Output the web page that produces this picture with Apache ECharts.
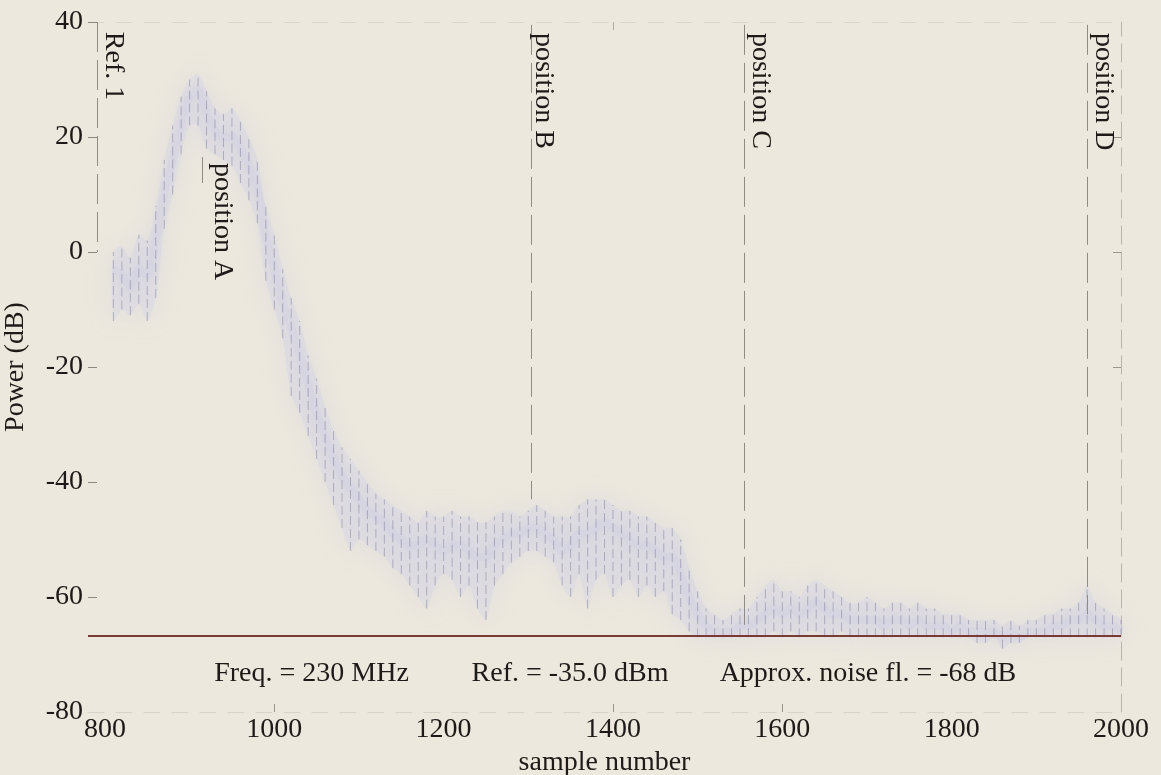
<!DOCTYPE html>
<html>
<head>
<meta charset="utf-8">
<script src="https://cdn.jsdelivr.net/npm/echarts@6/dist/echarts.min.js"></script>
<style>
html,body{margin:0;padding:0;background:#ece8de;}
#chart{width:1161px;height:775px;}
</style>
</head>
<body>
<div id="chart"></div>
<script>
// ---- data ----
const sampleX = [810,820,830,840,850,860,870,880,890,900,910,920,930,940,950,960,970,980,990,1000,
1010,1020,1030,1040,1050,1060,1070,1080,1090,1100,1110,1120,1130,1140,1150,1160,1170,1180,1190,1200,
1210,1220,1230,1240,1250,1260,1270,1280,1290,1300,1310,1320,1330,1340,1350,1360,1370,1380,1390,1400,
1410,1420,1430,1440,1450,1460,1470,1480,1490,1500,1510,1520,1530,1540,1550,1560,1570,1580,1590,1600,
1610,1620,1630,1640,1650,1660,1670,1680,1690,1700,1710,1720,1730,1740,1750,1760,1770,1780,1790,1800,
1810,1820,1830,1840,1850,1860,1870,1880,1890,1900,1910,1920,1930,1940,1950,1960,1970,1980,1990,2000];

const powerMid = [-3,-4,-6,-3,-4,2,10,16,22,27,28,24,21,20,20,18,15,11,3,-3,
-9,-13,-18,-23,-28,-32,-36,-39,-41,-43,-45,-46,-47,-49,-50,-51,-51,-50,-51,-52,
-51,-51,-52,-53,-53,-51,-50,-49,-49,-48,-48,-49,-50,-52,-51,-49,-49,-48,-47,-48,
-49,-50,-51,-51,-52,-53,-53,-56,-60,-63,-65,-66,-66,-66,-65,-65,-64,-63,-62,-63,
-62,-63,-62,-61,-62,-63,-63,-64,-64,-64,-64,-65,-64,-64,-65,-64,-65,-65,-65,-66,
-65,-66,-66,-66,-66,-67,-66,-67,-66,-66,-66,-65,-65,-64,-64,-63,-64,-65,-65,-66];

const powerLow = [-12,-10,-11,-9,-12,-8,4,10,17,22,22,18,17,16,15,12,9,5,-5,-10,
-15,-25,-28,-32,-36,-40,-44,-48,-52,-50,-51,-52,-53,-55,-56,-58,-60,-62,-58,-56,
-57,-60,-58,-62,-64,-58,-56,-54,-53,-52,-52,-53,-54,-58,-60,-56,-62,-57,-56,-60,
-58,-57,-60,-58,-60,-59,-63,-64,-66,-67,-67,-67,-67,-67,-67,-67,-67,-67,-66,-67,
-66,-67,-66,-66,-67,-67,-66,-67,-67,-67,-67,-67,-67,-67,-67,-67,-67,-67,-67,-67,
-67,-67,-68,-68,-67,-69,-68,-68,-67,-67,-67,-67,-67,-67,-67,-67,-67,-67,-67,-67];

const powerHigh = [0,1,-1,3,2,8,16,22,27,30,31,28,25,24,25,23,20,16,8,3,
-3,-8,-12,-18,-22,-27,-31,-34,-36,-38,-40,-42,-43,-44,-45,-46,-47,-45,-46,-46,
-45,-46,-46,-47,-47,-46,-45,-45,-46,-45,-44,-45,-46,-46,-46,-44,-43,-43,-43,-44,
-45,-45,-46,-46,-47,-48,-48,-50,-55,-59,-62,-63,-64,-63,-62,-62,-60,-58,-57,-59,
-59,-60,-58,-57,-58,-59,-60,-61,-61,-60,-61,-62,-61,-61,-62,-61,-62,-62,-63,-63,
-63,-64,-64,-64,-64,-65,-64,-65,-64,-64,-63,-63,-62,-62,-61,-58,-61,-62,-63,-64];

const noiseFloor = -66.8;

const markerNames  = ['Ref. 1', 'position A', 'position B', 'position C', 'position D'];
const markerX      = [790.6, 914.6, 1303, 1555.6, 1960.6];
const markerTop    = [40, 16.5, 39.5, 39.5, 39.5];
const markerBottom = [0, 12, -43, -66, -63];
const markerLabelX = [810.2, 938.2, 1318.3, 1574.5, 1979.4];
const markerLabelY = [38.3, 15.5, 38.1, 38.1, 38.1];

const noteTexts = ['Freq. = 230 MHz', 'Ref. = -35.0 dBm', 'Approx. noise fl. = -68 dB'];
const noteX     = [929, 1233, 1526];
const noteY     = [-73.3, -73.3, -73.3];

const xTickLabels = [800, 1000, 1200, 1400, 1600, 1800, 2000];
const yTickLabels = [-80, -60, -40, -20, 0, 20, 40];

// ---- chart ----
const FONT = '"Liberation Serif", "Times New Roman", serif';
const TXT = '#1d1a17';
const chart = echarts.init(document.getElementById('chart'), null, {renderer: 'canvas'});

const segs = sampleX.map((x, i) => [x, powerLow[i], powerHigh[i]]);
const midLine = sampleX.map((x, i) => [x, powerMid[i]]);

const markerLines = markerX.map((x, i) => [
  {coord: [x, markerTop[i]], lineStyle: {color: '#8f8c86', width: 1, type: [30, 8]}},
  {coord: [x, markerBottom[i]]}
]);

const labelStyle = {fontFamily: FONT, fontSize: 28, color: TXT, textBorderWidth: 0, textShadowBlur: 0, opacity: 1};

const option = {
  backgroundColor: '#ece8de',
  animation: false,
  grid: {left: 88, right: 40, top: 22, bottom: 63, containLabel: false, outerBoundsMode: 'none'},
  xAxis: [{
    type: 'value', min: 780, max: 2000, position: 'bottom',
    name: 'sample number', nameLocation: 'middle', nameGap: 25,
    nameTextStyle: {fontFamily: FONT, fontSize: 28, color: TXT},
    axisLine: {show: true, onZero: false, lineStyle: {color: '#d8d3c9', width: 1, type: [16, 12]}},
    axisTick: {show: true, inside: true, length: 8, customValues: [1000, 1400, 1600], lineStyle: {color: '#9a968f'}},
    axisLabel: {customValues: xTickLabels, formatter: v => String(v), fontFamily: FONT, fontSize: 28, color: TXT, margin: 4},
    splitLine: {show: false}
  }, {
    type: 'value', min: 780, max: 2000, position: 'top',
    axisLine: {show: true, onZero: false, lineStyle: {color: '#dcd7cd', width: 1, type: [16, 12]}},
    axisTick: {show: true, inside: true, length: 8, customValues: [1400], lineStyle: {color: '#b0aca4'}},
    axisLabel: {show: false},
    splitLine: {show: false}
  }],
  yAxis: [{
    type: 'value', min: -80, max: 40, interval: 20, position: 'left',
    name: 'Power (dB)', nameLocation: 'middle', nameGap: 58,
    nameTextStyle: {fontFamily: FONT, fontSize: 28, color: TXT},
    axisLine: {show: false, onZero: false},
    axisTick: {show: true, inside: true, length: 9, customValues: [40, 20, 0, -20, -40, -60], lineStyle: {color: '#8c8882'}},
    axisLabel: {customValues: yTickLabels, formatter: v => String(v), fontFamily: FONT, fontSize: 28, color: TXT, margin: 5},
    splitLine: {show: false}
  }, {
    type: 'value', min: -80, max: 40, interval: 20, position: 'right',
    axisLine: {show: true, onZero: false, lineStyle: {color: '#b9b5ad', width: 1, type: [18, 8]}},
    axisTick: {show: true, inside: true, length: 8, customValues: [20, 0, -20], lineStyle: {color: '#9a968f'}},
    axisLabel: {show: false},
    splitLine: {show: false}
  }],
  series: [
    {
      name: 'band', type: 'custom', data: [[sampleX[0], powerMid[0]]], silent: true, z: 1,
      renderItem: function (params, api) {
        const top = sampleX.map((x, i) => api.coord([x, powerHigh[i]]));
        const bot = sampleX.map((x, i) => api.coord([x, powerLow[i]])).reverse();
        return {
          type: 'polygon',
          shape: {points: top.concat(bot), smooth: 0.3},
          style: {fill: 'rgba(212,212,228,0.4)', shadowBlur: 22, shadowColor: 'rgba(205,205,225,0.95)'}
        };
      }
    },
    {
      name: 'mid', type: 'line', data: midLine, symbol: 'none', smooth: 0.3,
      lineStyle: {width: 8, color: 'rgba(205,205,226,0.35)', shadowBlur: 8, shadowColor: 'rgba(205,205,226,0.6)'},
      silent: true, z: 2,
      markLine: {
        silent: true, symbol: 'none', animation: false,
        label: {show: false},
        data: [
          {yAxis: noiseFloor, lineStyle: {color: '#7a3b36', width: 2, type: 'solid'}}
        ].concat(markerLines)
      }
    },
    {
      name: 'samples', type: 'custom', data: segs, silent: true, z: 3,
      renderItem: function (params, api) {
        const p1 = api.coord([api.value(0), api.value(1)]);
        const p2 = api.coord([api.value(0), api.value(2)]);
        return {
          type: 'line',
          shape: {x1: p1[0], y1: p1[1], x2: p2[0], y2: p2[1]},
          style: {stroke: 'rgba(95,95,130,0.38)', lineWidth: 1, lineDash: [9, 4]}
        };
      }
    },
    {
      name: 'markerLabels', type: 'scatter', symbolSize: 0, silent: true, z: 5,
      itemStyle: {color: TXT},
      data: markerNames.map((t, i) => [markerLabelX[i], markerLabelY[i], t]),
      label: Object.assign({
        show: true, position: 'inside', rotate: -90, align: 'left', verticalAlign: 'middle',
        formatter: p => p.value[2]
      }, labelStyle)
    },
    {
      name: 'notes', type: 'scatter', symbolSize: 0, silent: true, z: 5,
      itemStyle: {color: TXT},
      data: noteTexts.map((t, i) => [noteX[i], noteY[i], t]),
      label: Object.assign({
        show: true, position: 'inside', align: 'left', verticalAlign: 'middle',
        formatter: p => p.value[2]
      }, labelStyle)
    }
  ]
};
chart.setOption(option);
</script>
</body>
</html>
